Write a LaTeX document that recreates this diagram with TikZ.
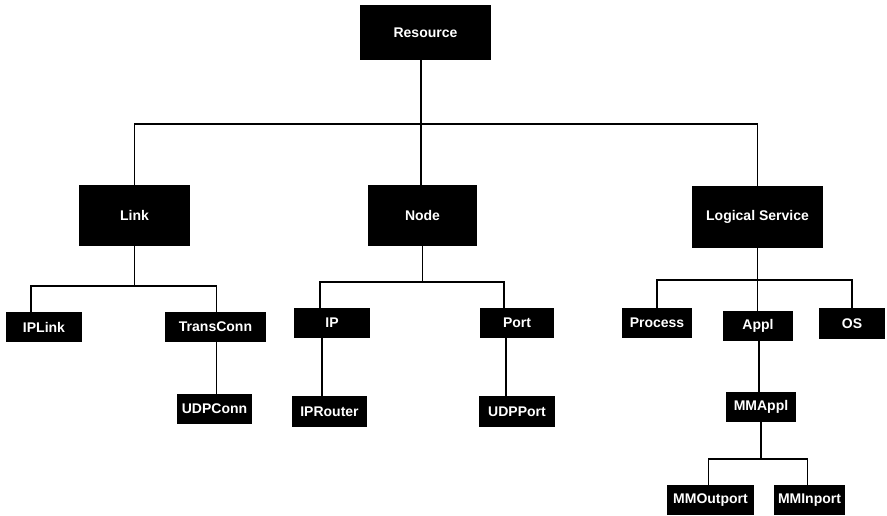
\documentclass[tikz,border=0pt]{standalone}
\usepackage{fontspec}
\setmainfont{Liberation Sans}
\tikzset{
  bigbox/.style={fill=black, text=white, inner sep=0pt, minimum height=61pt,
    font=\bfseries\fontsize{14}{16}\selectfont},
  smallbox/.style={fill=black, text=white, inner sep=0pt, minimum height=30pt,
    font=\bfseries\fontsize{14}{16}\selectfont},
  edge/.style={line width=1.3pt}
}
\begin{document}
\begin{tikzpicture}[x=1pt,y=-1pt]
    \useasboundingbox (0,0) rectangle (887,515);

    % top level
    \node[bigbox, minimum width=131pt, minimum height=55pt] (resource) at (425.5,32.5) {Resource};
    \node[bigbox, minimum width=111pt] (link) at (134.5,215.5) {Link};
    \node[bigbox, minimum width=109pt] (nodeent) at (422.5,215.5) {Node};
    \node[bigbox, minimum width=131pt, minimum height=62pt] (logsvc) at (757.5,217) {Logical Service};

    % link branch
    \node[smallbox, minimum width=76pt] (iplink) at (44,327) {IPLink};
    \node[smallbox, minimum width=101pt] (transconn) at (215.5,327) {TransConn};
    \node[smallbox, minimum width=75pt] (udpconn) at (214.5,409) {UDPConn};

    % node branch
    \node[smallbox, minimum width=76pt] (ip) at (332,323) {IP};
    \node[smallbox, minimum width=74pt] (port) at (517,323) {Port};
    \node[smallbox, minimum width=75pt, minimum height=31pt] (iprouter) at (329.5,411.5) {IPRouter};
    \node[smallbox, minimum width=76pt, minimum height=31pt] (udpport) at (517,411.5) {UDPPort};

    % logical service branch
    \node[smallbox, minimum width=70pt] (process) at (657,323) {Process};
    \node[smallbox, minimum width=70pt] (appl) at (758,326) {Appl};
    \node[smallbox, minimum width=66pt, minimum height=31pt] (os) at (852,323.5) {OS};
    \node[smallbox, minimum width=70pt] (mmappl) at (761,407) {MMAppl};
    \node[smallbox, minimum width=87pt] (mmout) at (710.5,500) {MMOutport};
    \node[smallbox, minimum width=71pt] (mmin) at (809.5,500) {MMInport};

    % connectors
    \coordinate (topbus) at (421,124);
    \draw[edge] (resource.south -| topbus) -- (topbus);
    \draw[edge] (link.north) |- (topbus) -| (logsvc.north);
    \draw[edge] (topbus) -- (nodeent.north -| topbus);

    \draw[edge] (link.south) -- (link.south |- 0,286) coordinate (linkbus);
    \draw[edge] ([xshift=-13pt]iplink.north) |- (linkbus) -| ([xshift=1pt]transconn.north);
    \draw[edge] ([xshift=1pt]transconn.south) -- ([xshift=1pt]transconn.south |- udpconn.north);

    \draw[edge] (nodeent.south) -- (nodeent.south |- 0,282) coordinate (nodebus);
    \draw[edge] ([xshift=-12pt]ip.north) |- (nodebus) -| ([xshift=-13pt]port.north);
    \draw[edge] ([xshift=-10pt]ip.south) -- ([xshift=-10pt]ip.south |- iprouter.north);
    \draw[edge] ([xshift=-11pt]port.south) -- ([xshift=-11pt]port.south |- udpport.north);

    \draw[edge] (logsvc.south) -- (logsvc.south |- 0,280) coordinate (svcbus);
    \draw[edge] (process.north) |- (svcbus) -| (os.north);
    \draw[edge] (svcbus) -- (svcbus |- appl.north);
    \draw[edge] ([xshift=1pt]appl.south) -- ([xshift=1pt]appl.south |- mmappl.north);

    \draw[edge] (mmappl.south) -- (mmappl.south |- 0,459) coordinate (mmbus);
    \draw[edge] ([xshift=-2pt]mmout.north) |- (mmbus) -| ([xshift=-2pt]mmin.north);
\end{tikzpicture}
\end{document}
